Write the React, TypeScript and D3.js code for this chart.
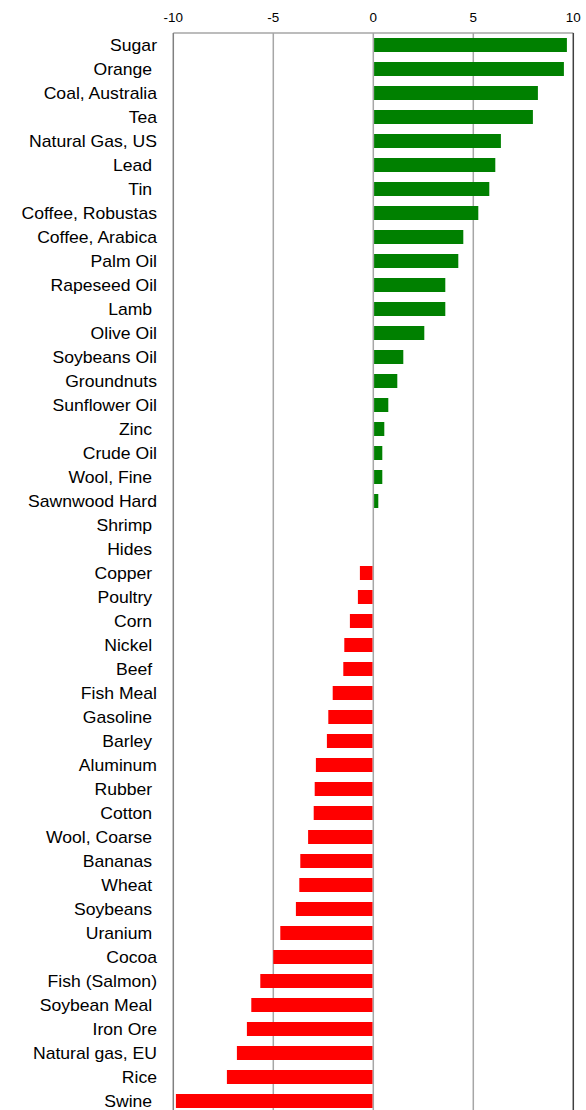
import React from "react";
import * as d3 from "d3";

const categories: string[] = [
  "Sugar", "Orange ", "Coal, Australia", "Tea", "Natural Gas, US", "Lead ", "Tin ",
  "Coffee, Robustas", "Coffee, Arabica", "Palm Oil", "Rapeseed Oil", "Lamb ", "Olive Oil",
  "Soybeans Oil", "Groundnuts", "Sunflower Oil", "Zinc ", "Crude Oil", "Wool, Fine ",
  "Sawnwood Hard", "Shrimp ", "Hides ", "Copper ", "Poultry ", "Corn ", "Nickel ", "Beef ",
  "Fish Meal", "Gasoline ", "Barley ", "Aluminum", "Rubber ", "Cotton ", "Wool, Coarse ",
  "Bananas ", "Wheat ", "Soybeans ", "Uranium ", "Cocoa", "Fish (Salmon)", "Soybean Meal ",
  "Iron Ore", "Natural gas, EU", "Rice", "Swine ",
];

const values: number[] = [
  9.68, 9.53, 8.23, 7.98, 6.38, 6.1, 5.8,
  5.25, 4.5, 4.25, 3.6, 3.6, 2.55,
  1.5, 1.2, 0.75, 0.55, 0.45, 0.45,
  0.25, 0, 0, -0.67, -0.77, -1.17, -1.45, -1.5,
  -2.03, -2.25, -2.32, -2.87, -2.93, -2.98, -3.26,
  -3.65, -3.7, -3.87, -4.65, -5.0, -5.65, -6.1,
  -6.32, -6.82, -7.32, -9.87,
];

const xTicks: number[] = [-10, -5, 0, 5, 10];

export default function App() {
  const W = 586, H = 1110;
  const left = 173.3, right = 573.3, top = 33;
  const x = d3.scaleLinear().domain([-10, 10]).range([left, right]);
  const y = d3
    .scaleBand<string>()
    .domain(categories)
    .range([top, top + categories.length * 24])
    .paddingInner(10 / 24)
    .paddingOuter(5 / 24);
  const bottom = top + categories.length * 24;
  const font = "'Liberation Sans', Arial, sans-serif";

  return (
    <svg
      width={W}
      height={H}
      style={{ position: "absolute", left: 0, top: 0, background: "#fff" }}
    >
      <rect x={0} y={0} width={W} height={H} fill="#fff" />
      {/* grid lines */}
      {xTicks
        .filter((t) => t !== -10 && t !== 10)
        .map((t) => (
          <line
            key={"g" + t}
            x1={x(t)}
            x2={x(t)}
            y1={top}
            y2={bottom}
            stroke="#a6a6a6"
            strokeWidth={1.5}
          />
        ))}
      {/* bars */}
      {categories.map((c, i) => {
        const v = values[i];
        if (v === 0) return null;
        const x0 = x(Math.min(0, v));
        const x1 = x(Math.max(0, v));
        return (
          <rect
            key={"b" + i}
            x={v > 0 ? x0 + 0.8 : x0}
            y={y(c)!}
            width={Math.max(0, x1 - x0 - 0.8)}
            height={y.bandwidth()}
            fill={v > 0 ? "#008000" : "#ff0000"}
          />
        );
      })}
      {/* frame */}
      <line x1={left} x2={right} y1={top} y2={top} stroke="#a6a6a6" strokeWidth={1.5} />
      <line x1={left} x2={left} y1={top} y2={bottom} stroke="#808080" strokeWidth={1.5} />
      <line x1={right} x2={right} y1={top} y2={bottom} stroke="#404040" strokeWidth={1.5} />
      {/* tick labels */}
      {xTicks.map((t) => (
        <text
          key={"t" + t}
          transform={`translate(${x(t)},22) scale(1.12,1)`}
          textAnchor="middle"
          fontFamily={font}
          fontSize={12}
          fill="#000"
        >
          {String(t)}
        </text>
      ))}
      {/* category labels */}
      {categories.map((c) => (
        <text
          key={"l" + c}
          transform={`translate(157,${y(c)! + y.bandwidth() / 2 + 5.7}) scale(1.1,1)`}
          textAnchor="end"
          fontFamily={font}
          fontSize={16}
          fill="#000"
          style={{ whiteSpace: "pre" }}
          xmlSpace="preserve"
        >
          {c}
        </text>
      ))}
    </svg>
  );
}
